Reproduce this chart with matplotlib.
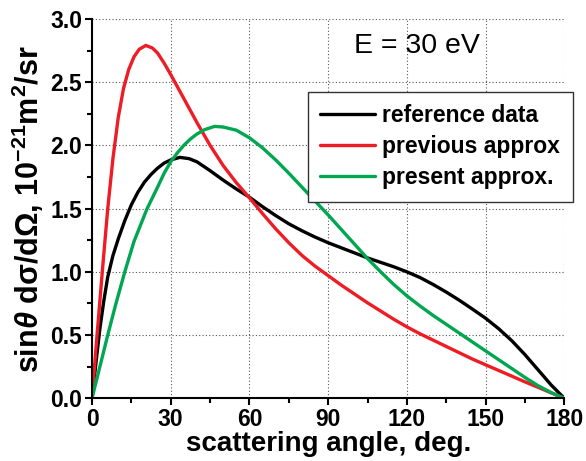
import matplotlib
matplotlib.use('Agg')
import matplotlib.pyplot as plt
from matplotlib.ticker import MultipleLocator, FormatStrFormatter

plt.rcParams['font.family'] = 'Liberation Sans'
plt.rcParams['mathtext.fontset'] = 'custom'
plt.rcParams['mathtext.rm'] = 'Liberation Sans:bold'
plt.rcParams['mathtext.it'] = 'Liberation Sans:italic:bold'
plt.rcParams['mathtext.bf'] = 'Liberation Sans:bold'

# scattering angle (deg.) and sin(theta) dsigma/dOmega (1e-21 m^2/sr)
angle_ref = [0, 1.5, 3, 4.5, 6, 8, 10, 12.5, 15, 17.5, 20, 22.5, 25, 27.5, 30, 33.5, 37,
             40, 45, 50, 55, 60, 65, 70, 75, 80, 85, 90, 95, 100, 105, 110, 115, 120, 125,
             130, 135, 140, 145, 150, 155, 160, 165, 170, 175, 180]
reference = [0, 0.28, 0.55, 0.77, 0.96, 1.13, 1.26, 1.405, 1.53, 1.63, 1.71, 1.77, 1.82,
             1.86, 1.885, 1.905, 1.895, 1.87, 1.8, 1.725, 1.655, 1.59, 1.515, 1.445, 1.38,
             1.325, 1.275, 1.23, 1.19, 1.15, 1.11, 1.075, 1.04, 1.0, 0.955, 0.9, 0.84,
             0.775, 0.705, 0.633, 0.55, 0.455, 0.345, 0.225, 0.105, 0]

angle_prev = [0, 2, 4, 6, 8, 10, 12, 14, 16, 18, 20.5, 23, 25, 27.5, 30, 35, 40, 45, 50,
              55, 60, 65, 70, 75, 80, 85, 90, 95, 100, 105, 110, 115, 120, 125, 130, 135,
              140, 145, 150, 155, 160, 165, 170, 175, 180]
previous = [0, 0.52, 1.02, 1.5, 1.9, 2.22, 2.45, 2.6, 2.7, 2.76, 2.79, 2.77, 2.73, 2.65,
            2.56, 2.37, 2.18, 2.0, 1.84, 1.705, 1.585, 1.46, 1.34, 1.23, 1.13, 1.045,
            0.97, 0.895, 0.825, 0.755, 0.69, 0.625, 0.565, 0.51, 0.46, 0.41, 0.36, 0.31,
            0.265, 0.22, 0.175, 0.13, 0.087, 0.043, 0]

angle_pres = [0, 3, 6, 9, 12.5, 16, 21, 25, 27.5, 30, 32.5, 35, 37.5, 40, 43, 46.7, 50,
              55, 60, 65, 70, 75, 80, 85, 90, 95, 100, 105, 110, 115, 120, 125, 130, 135,
              140, 145, 150, 155, 160, 165, 170, 175, 180]
present = [0, 0.25, 0.5, 0.74, 1.0, 1.24, 1.5, 1.67, 1.78, 1.87, 1.94, 2.0, 2.05, 2.09,
           2.125, 2.15, 2.145, 2.12, 2.06, 1.98, 1.885, 1.78, 1.67, 1.56, 1.45, 1.335,
           1.22, 1.105, 1.0, 0.9, 0.81, 0.73, 0.655, 0.585, 0.515, 0.445, 0.375, 0.305,
           0.235, 0.165, 0.1, 0.045, 0]

fig = plt.figure(figsize=(5.86, 4.61), dpi=100)
ax = fig.add_axes([0.157, 0.136, 0.806, 0.823])

style = dict(lw=2.4, solid_joinstyle='round', solid_capstyle='round')
ax.plot(angle_ref, reference, color='black', label='reference data', **style)
ax.plot(angle_prev, previous, color='#ee1c25', label='previous approx', **style)
ax.plot(angle_pres, present, color='#00a650', label='present approx.', **style)

ax.set_xlim(0, 180)
ax.set_ylim(0, 3.0)
ax.xaxis.set_major_locator(MultipleLocator(30))
ax.xaxis.set_minor_locator(MultipleLocator(15))
ax.yaxis.set_major_locator(MultipleLocator(0.5))
ax.yaxis.set_minor_locator(MultipleLocator(0.25))
ax.yaxis.set_major_formatter(FormatStrFormatter('%.1f'))

ax.grid(True, which='major', linestyle=(0, (1, 2)), color='#555555', lw=0.8)
ax.spines['top'].set_visible(False)
ax.spines['right'].set_visible(False)
ax.spines['left'].set_linewidth(1.5)
ax.spines['bottom'].set_linewidth(1.5)
ax.tick_params(which='major', direction='out', length=5, width=1.5, labelsize=16.5, pad=2)
ax.tick_params(which='minor', direction='out', length=3.5, width=1.5)
for lab in ax.get_xticklabels() + ax.get_yticklabels():
    lab.set_fontweight('bold')

ax.set_xlabel('scattering angle, deg.', fontsize=20, fontweight='bold', labelpad=0)
ax.set_ylabel(r'sin$\it{\theta}$ dσ/dΩ, 10$^{-21}$m$^2$/sr', fontsize=22,
              fontweight='bold', labelpad=3)

ax.text(0.688, 0.929, 'E = 30 eV', transform=ax.transAxes, fontsize=20.5,
        ha='center', va='center')

leg = ax.legend(loc='upper right', bbox_to_anchor=(1.018, 0.808), borderaxespad=0,
                prop={'weight': 'bold', 'size': 16.5}, handlelength=2.4,
                labelspacing=0.35, handletextpad=0.3, borderpad=0.55, fancybox=False,
                framealpha=1, edgecolor='#333333')
leg.get_frame().set_linewidth(1.0)

fig.savefig('out.png', dpi=100)
